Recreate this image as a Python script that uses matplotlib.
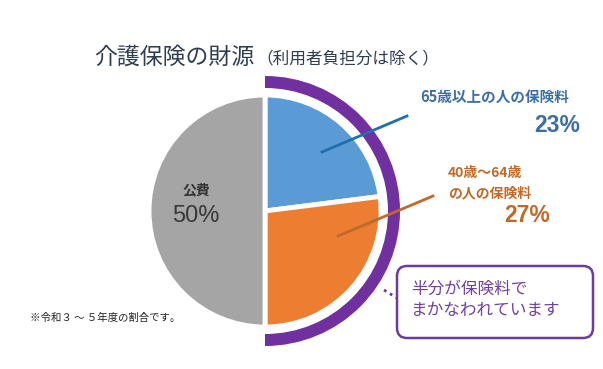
import matplotlib
matplotlib.use("Agg")
import matplotlib.pyplot as plt
from matplotlib.patches import Wedge, FancyBboxPatch

plt.rcParams['font.family'] = ['Noto Sans CJK JP', 'DejaVu Sans']

# data
labels = ["65歳以上の人の保険料", "40歳～64歳\nの人の保険料", "公費"]
shares = [23, 27, 50]
pcts = ["23%", "27%", "50%"]
colors = ["#5b9bd5", "#ed7d31", "#a5a5a5"]
title = "介護保険の財源"
subtitle = "（利用者負担分は除く）"
note = "半分が保険料で\nまかなわれています"
footnote = "※令和３ ～ ５年度の割合です。"

W, H = 603, 369
fig = plt.figure(figsize=(W / 100, H / 100), dpi=100)
ax = fig.add_axes([0, 0, 1, 1])

cx, cy, r = 265, H - 211, 116
ax.pie(shares, startangle=90, counterclock=False, center=(cx, cy), radius=r,
       colors=colors, wedgeprops=dict(edgecolor="white", linewidth=3.5))

# purple arc over the insurance half
ax.add_patch(Wedge((cx, cy), 135, -90, 90, width=12, color="#7030a0", lw=0))

ax.set_xlim(0, W)
ax.set_ylim(0, H)
ax.set_aspect("equal")
ax.axis("off")

pct_font = ["Liberation Sans", "DejaVu Sans"]

# title
ax.text(94, H - 57, title, fontsize=16.5, color="#2e3d4f", va="center")
ax.text(256, H - 59, subtitle, fontsize=12, color="#2e3d4f", va="center")

# blue label
ax.plot([322, 407], [H - 152, H - 116], color="#1f6fb0", lw=2)
ax.text(420, H - 97, labels[0], fontsize=10.5, fontweight="bold", color="#3a6ea5", va="center")
ax.text(580, H - 125, pcts[0], fontsize=16.5, fontweight="bold", color="#3a6ea5",
        va="center", ha="right", family=pct_font)

# orange label
ax.plot([338, 433], [H - 236, H - 196], color="#c0692a", lw=2)
ax.text(448, H - 183, labels[1], fontsize=10, fontweight="bold", color="#c0692a",
        va="center", linespacing=1.6)
ax.text(550, H - 216, pcts[1], fontsize=16.5, fontweight="bold", color="#c0692a",
        va="center", ha="right", family=pct_font)

# public share
ax.text(196, H - 190, labels[2], fontsize=10, fontweight="bold", color="#333333",
        ha="center", va="center")
ax.text(196, H - 216, pcts[2], fontsize=17, color="#383838", ha="center", va="center",
        family=pct_font)

# note box
ax.plot([384, 397], [H - 290, H - 298], color="#6a3d9a", lw=2, ls=(0, (1, 1.5)))
ax.add_patch(FancyBboxPatch((397, H - 338), 196, 72,
                            boxstyle="round,pad=0,rounding_size=10",
                            fc="white", ec="#6a3d9a", lw=1.8))
ax.text(411, H - 300, note, fontsize=12, color="#7040a0", va="center", linespacing=1.35)

ax.text(30, H - 318, footnote, fontsize=7.5, color="#222222", va="center")

fig.savefig("out.png", dpi=100)
